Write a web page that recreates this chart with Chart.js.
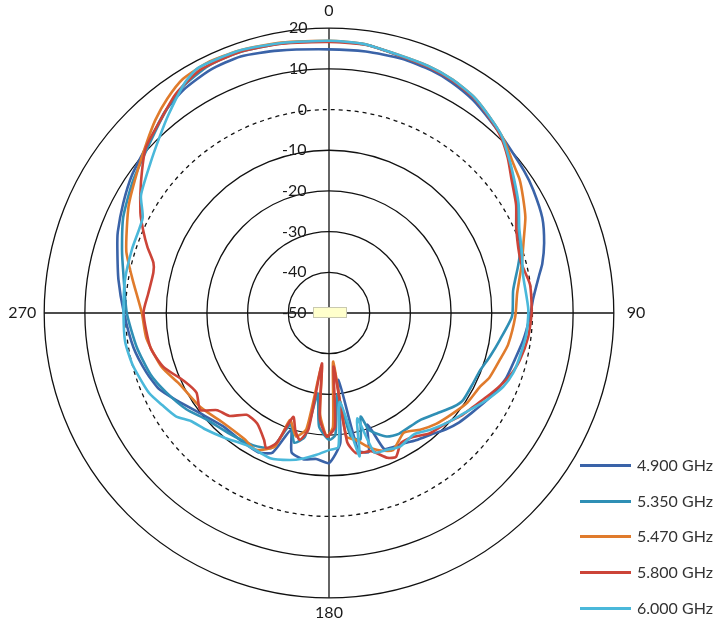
<!DOCTYPE html>
<html>
<head>
<meta charset="utf-8">
<script src="https://cdn.jsdelivr.net/npm/chart.js@4"></script>
<style>
  body { margin: 0; background: #fff; }
  #wrap { position: relative; width: 720px; height: 625px; }
  #legend { position: absolute; left: 580px; top: 0; font-family: Lato, sans-serif; font-size: 16px; color: #333; }
  .item { position: absolute; left: 0; width: 140px; height: 20px; white-space: nowrap; }
  .item .sw { position: absolute; left: 0; top: 9px; width: 51px; height: 3px; }
  .item span { position: absolute; left: 57px; top: 0; line-height: 20px; }
</style>
</head>
<body>
<div id="wrap">
  <canvas id="chart" width="720" height="625"></canvas>
  <div id="legend"></div>
</div>
<script>
// radial ticks (dB) and angle labels
const tickValues = [-50, -40, -30, -20, -10, 0, 10, 20];
const angleLabels = [0, 90, 180, 270];

const seriesNames = ["4.900 GHz", "5.350 GHz", "5.470 GHz", "5.800 GHz", "6.000 GHz"];
const seriesColors = ["#3A63A8", "#2F8FB5", "#E07B2C", "#CC4438", "#4AB8DA"];

// [angle in degrees, gain in dB]
const gain4900 = [
  [0,14.8],[8,14.9],[16,15.0],[23,14.7],[28,14.2],[34,13.2],[40,11.7],[46,10.4],[54,9.3],[59,8.6],
  [66,7.4],[72,5.6],[77,3.8],[80,2.4],[86,0.3],[91,-0.6],[98,-1.8],[104,-2.9],[110,-3.6],[115,-4.7],
  [119,-5.7],[125,-7.2],[130,-8.2],[135,-9.5],[140,-11],[145,-12],[150,-13],[155,-13.5],[158,-14],
  [161,-21],[164,-14.5],[168,-15.5],[172,-33.4],[175,-18],[180,-13.1],[185,-14],[190,-13.5],[195,-14.5],
  [198,-19.8],[202,-13],[207,-11.6],[215,-11.9],[223,-11.9],[232,-9.9],[240,-6.9],[246,-4.2],[252,-2.8],
  [260,-1.2],[270,0.4],[279,2.4],[287,4.4],[291,5.6],[298,7.3],[305,9.1],[314,11.2],[321,13.9],[327,15.5],
  [334,16.5],[341,16.7],[349,15.7]
];
const gain5350 = [
  [0,16.8],[8,16.6],[15,15.6],[22,15.3],[28,14.8],[34,13.8],[39,12.3],[44,10.8],[49,8.4],[54,6],
  [60,3.5],[66,1],[72,-0.6],[76,-2.1],[83,-4.4],[91,-5],[99,-7.5],[105,-9],[111,-10.3],[116,-10.6],
  [123,-10.7],[127,-11.7],[133,-13.8],[140,-15.5],[150,-15.7],[155,-16.5],[161,-19.5],[163,-23.4],
  [166,-18],[170,-19.2],[174,-30],[177,-20],[180,-18.8],[185,-22],[188,-30],[191,-19],[195,-17],
  [199,-21],[203,-14],[210,-12.5],[220,-11.5],[229,-10.1],[236,-7.7],[244,-5.5],[251,-3.6],[260,-2],
  [270,-0.3],[281,1.5],[287,3.2],[295,5.8],[304,8.1],[314,10.9],[321,13.8],[327,16.2],[334,17.6],
  [341,17.8],[350,17.3]
];
const gain5470 = [
  [0,16.9],[7,16.7],[15,15.7],[22,15.4],[28,14.9],[34,13.9],[39,12.4],[44,10.9],[47,9.8],[51,8.3],
  [55,7.2],[59,5.6],[64,3.7],[69,1.3],[76,-1.2],[84,-3.5],[91,-4.2],[100,-5.3],[105,-6.4],[112,-7.5],
  [116,-8.7],[123,-9.5],[129,-10.8],[136,-12.1],[142,-13.6],[148,-15.3],[155,-12.8],[160,-14.1],
  [164,-15.9],[168,-18.1],[172,-19.3],[175,-38],[178,-22],[181,-19.6],[185,-25],[188,-37],[191,-21],
  [195,-18.6],[200,-22],[202,-14.7],[208,-11.9],[214,-12.7],[224,-12.5],[234,-10.8],[245,-9.2],
  [252,-6.8],[262,-4.7],[270,-4.0],[280,-0.9],[287,2.1],[298,5.8],[306,8.4],[313,11.3],[318,13.8],
  [323,16],[328,17.8],[334,18.4],[341,18.2],[350,17.5]
];
const gain5800 = [
  [0,16.6],[8,16.5],[15,15.6],[22,15.2],[28,14.7],[34,13.7],[39,12.2],[44,10.6],[49,8.2],[54,5.5],
  [60,3.1],[66,0.4],[75,-1.2],[82,-0.1],[90,-0.2],[97,-0.7],[104,-1.7],[109,-2.9],[113,-4.3],[118,-6.1],
  [123,-7.7],[128,-8.9],[133,-10.4],[140,-11.4],[146,-13.2],[151,-13.5],[155,-11],[158,-11.6],
  [163,-14.5],[169,-14.9],[172,-18],[175,-36.8],[177,-22],[181,-19.6],[185,-24],[188,-37.5],[190,-21],
  [193,-18],[196,-20],[199,-23],[202,-15.5],[205,-13.4],[207,-14.9],[213,-17.6],[219,-17.8],[224,-14.8],
  [229,-13.6],[233,-10.4],[239,-12],[245,-10.6],[252,-7.2],[259,-5.3],[270,-4.4],[276,-5.3],[283,-5.7],
  [286,-5.1],[290,-2.5],[294,0],[298,2.5],[305,6.4],[312,10.6],[319,13],[325,15.7],[332,17.6],
  [341,17.8],[350,17.2]
];
const gain6000 = [
  [0,16.9],[7,16.7],[15,15.7],[22,15.4],[28,14.9],[34,13.9],[39,12.4],[44,10.9],[49,8.5],[54,6.2],
  [60,3.8],[66,1.2],[72,-0.2],[79,-1.4],[89,-1],[96,-1.2],[103,-1.9],[108,-2.4],[113,-3.5],[118,-5.4],
  [122,-7],[127,-8.8],[133,-10.4],[139,-12],[145,-13.6],[152,-12.8],[157,-13.5],[162,-14],[165,-23.2],
  [168,-14],[173,-28],[176,-17],[180,-16.3],[185,-15],[190,-13.7],[195,-12.6],[202,-11.5],[211,-11.8],
  [220,-10],[227,-8.2],[232,-6.9],[236,-4.6],[241,-3.2],[246,-1.6],[255,-0.1],[262,0.6],[270,0.5],
  [279,0.8],[288,0.9],[297,1.4],[302,4.5],[310,7.3],[316,10],[321,12.7],[328,16.8],[332,18.3],
  [341,18.2],[350,17.4]
];
const allGains = [gain4900, gain5350, gain5470, gain5800, gain6000];

// one category per degree, only the read angles carry a value
const degrees = Array.from({ length: 360 }, (_, i) => i);

function toSeries(pairs) {
  const out = degrees.map(() => null);
  pairs.forEach(([a, v]) => { out[a] = v; });
  return out;
}

// tick labels are drawn centred on the axis; pad them with no-break spaces
// so the visible text ends ~19px left of the axis, like the original
const measureCtx = document.createElement("canvas").getContext("2d");
measureCtx.font = "16px Lato, sans-serif";
const nbspWidth = measureCtx.measureText("\u00A0").width || 4;
function padTick(value) {
  const s = String(value);
  const w = measureCtx.measureText(s).width;
  const n = Math.round((w + 44) / nbspWidth);
  return s + "\u00A0".repeat(n);
}

const centerBox = {
  id: "centerBox",
  afterDraw(chart) {
    const r = chart.scales.r;
    const ctx = chart.ctx;
    ctx.save();
    ctx.fillStyle = "#FFFFCC";
    ctx.strokeStyle = "#C9C9B0";
    ctx.lineWidth = 1;
    ctx.fillRect(r.xCenter - 16, r.yCenter - 6, 34, 11);
    ctx.strokeRect(r.xCenter - 15.5, r.yCenter - 5.5, 33, 10);
    ctx.restore();
  }
};

Chart.defaults.font.family = "Lato, sans-serif";
Chart.defaults.font.size = 16;

new Chart(document.getElementById("chart"), {
  type: "radar",
  data: {
    labels: degrees,
    datasets: allGains.map((g, i) => ({
      label: seriesNames[i],
      data: toSeries(g),
      borderColor: seriesColors[i],
      backgroundColor: seriesColors[i],
      borderWidth: 2.6,
      pointRadius: 0,
      pointHoverRadius: 0,
      fill: false,
      tension: 0.2,
      spanGaps: true,
      order: allGains.length - i
    }))
  },
  options: {
    responsive: false,
    animation: false,
    layout: { padding: { top: 0, right: 66, bottom: 0, left: 0 } },
    plugins: { legend: { display: false }, tooltip: { enabled: false } },
    scales: {
      r: {
        min: tickValues[0],
        max: tickValues[tickValues.length - 1],
        startAngle: 0,
        ticks: {
          stepSize: 10,
          color: "#1a1a1a",
          font: { size: 16 },
          showLabelBackdrop: false,
          backdropPadding: { x: 0, y: -8 },
          callback: (v) => padTick(v)
        },
        grid: { circular: true, color: "#111", lineWidth: 1.3 },
        border: { dash: (ctx) => (ctx.tick && ctx.tick.value === 0 ? [4, 4] : []) },
        angleLines: {
          color: (ctx) => (angleLabels.includes(ctx.index) ? "#111" : "rgba(0,0,0,0)"),
          lineWidth: (ctx) => (angleLabels.includes(ctx.index) ? 1.3 : 0)
        },
        pointLabels: {
          padding: (ctx) => (ctx.index === 90 ? 13 : ctx.index === 180 ? 5 : 8),
          color: "#1a1a1a",
          font: { size: 16 },
          callback: (label) => (angleLabels.includes(label) ? String(label) : [])
        }
      }
    }
  },
  plugins: [centerBox]
});

// legend
const legend = document.getElementById("legend");
const legendTops = [455, 491, 526, 562, 598];
seriesNames.forEach((name, i) => {
  const item = document.createElement("div");
  item.className = "item";
  item.style.top = legendTops[i] + "px";
  item.innerHTML = '<div class="sw" style="background:' + seriesColors[i] + '"></div><span>' + name + "</span>";
  legend.appendChild(item);
});
</script>
</body>
</html>
